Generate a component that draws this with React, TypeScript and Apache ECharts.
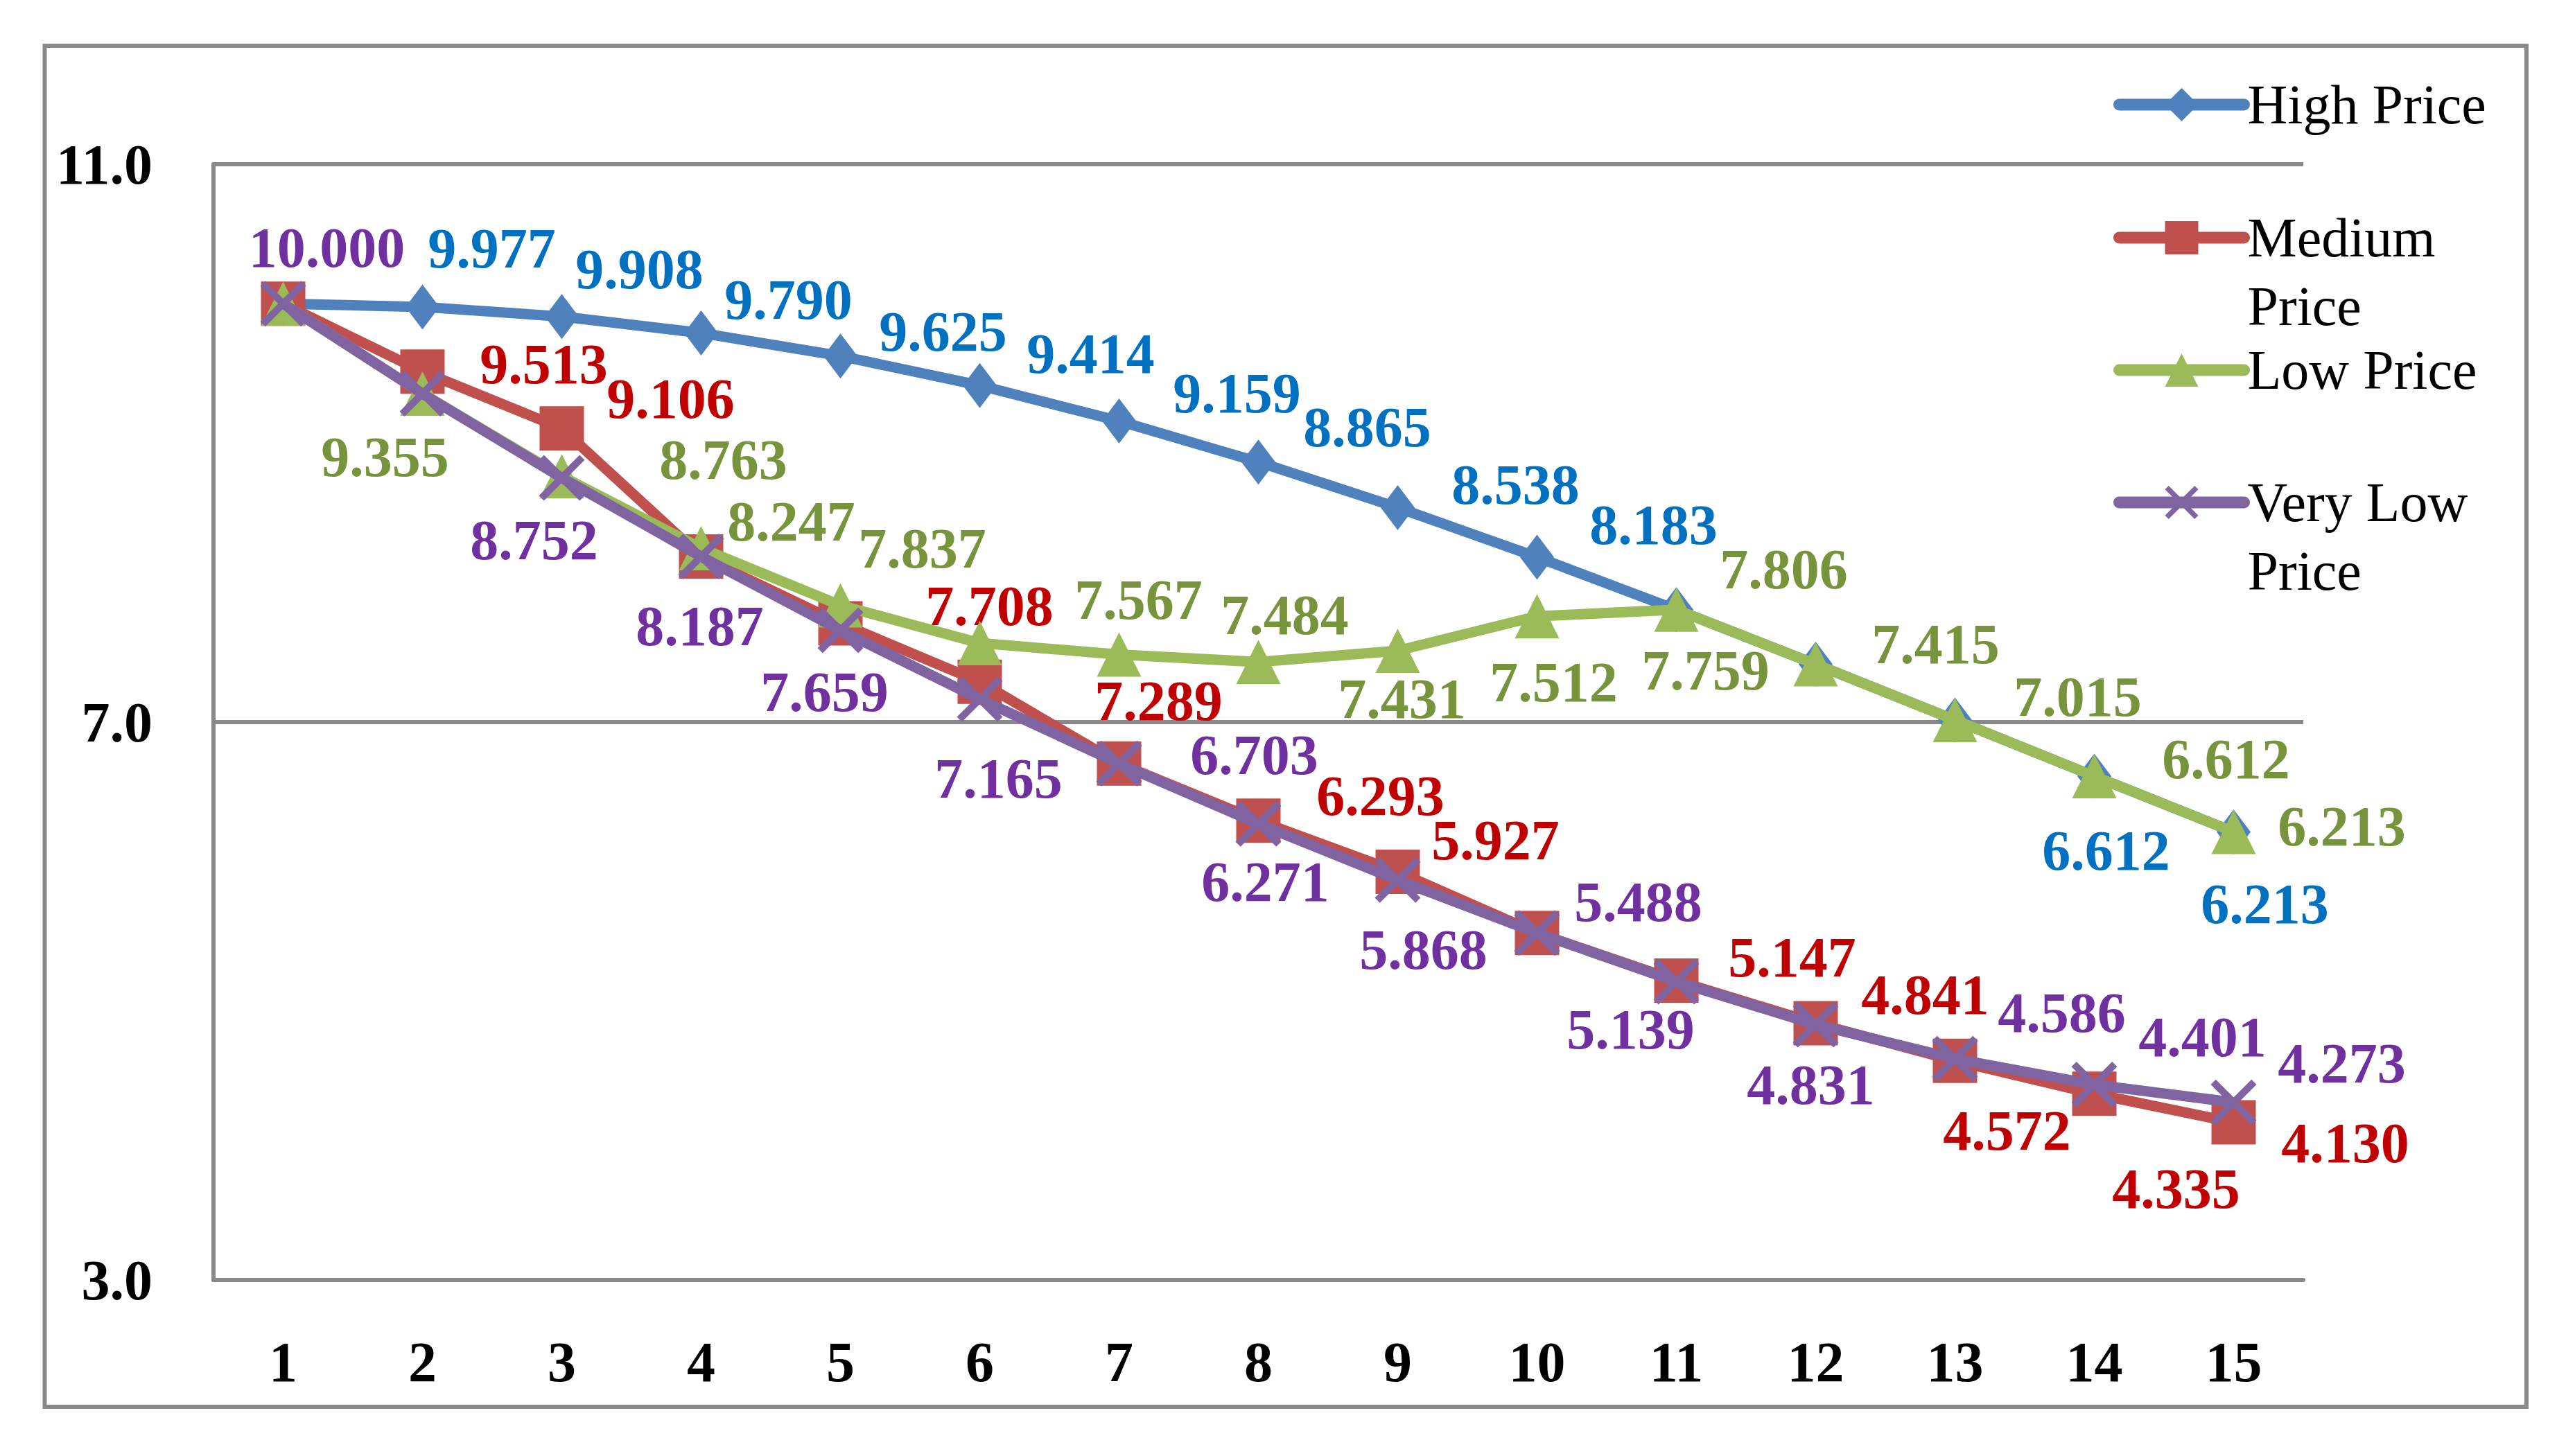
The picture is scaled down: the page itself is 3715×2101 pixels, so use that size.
import React, { useEffect, useRef } from "react";
import * as echarts from "echarts";

const categories = ["1", "2", "3", "4", "5", "6", "7", "8", "9", "10", "11", "12", "13", "14", "15"];
const highPrice = [10.0, 9.977, 9.908, 9.79, 9.625, 9.414, 9.159, 8.865, 8.538, 8.183, 7.806, 7.415, 7.015, 6.612, 6.213];
const mediumPrice = [10.0, 9.513, 9.106, 8.187, 7.708, 7.289, 6.703, 6.293, 5.927, 5.488, 5.147, 4.841, 4.572, 4.335, 4.13];
const lowPrice = [10.0, 9.355, 8.763, 8.247, 7.837, 7.567, 7.484, 7.431, 7.512, 7.759, 7.806, 7.415, 7.015, 6.612, 6.213];
const veryLowPrice = [10.0, 9.355, 8.752, 8.187, 7.659, 7.165, 6.703, 6.271, 5.868, 5.488, 5.139, 4.831, 4.586, 4.401, 4.273];
const seriesNames = ["High Price", "Medium Price", "Low Price", "Very Low Price"];
const yMin = 3;
const yMax = 11;
const yInterval = 4;

// label placement (offset of each label from its point; null = label hidden)
type Off = [number, number] | null;
const highLabelOffsets: Off[] = [null, [100, -84], [112, -68], [126, -48], [148, -35], [160, -46], [170, -40], [157, -50], [170, -33], [168, -46], null, null, null, [17, 107], [45, 104]];
const mediumLabelOffsets: Off[] = [null, [175, -11], [157, -43], null, [215, -25], [258, 28], null, [176, -36], [141, -45], null, [167, -33], [158, -41], [75, 101], [118, 137], [161, 30]];
const lowLabelOffsets: Off[] = [null, [-54, 91], [233, -24], [130, -39], [118, -82], [229, -62], [239, -57], [207, 53], [225, 46], [243, 78], [155, -58], [173, -29], [177, -33], [190, -25], [156, -8]];
const veryLowLabelOffsets: Off[] = [[63, -81], null, [-40, 90], [-2, 100], [-23, 89], [27, 115], [195, -12], [10, 84], [37, 101], [146, -45], [-66, 69], [-7, 87], [154, -66], [156, -69], [156, -56]];

const FONT = "Liberation Serif";
const GRAY = "#898989";

const crossPath =
  "path://M0,11 L11,0 L100,89 L89,100 Z M89,0 L100,11 L11,100 L0,89 Z";

function buildData(values: number[], offs: Off[]) {
  return values.map((v, i) => {
    const o = offs[i];
    return o
      ? { value: v, label: { show: true, offset: o } }
      : { value: v, label: { show: false } };
  });
}

export default function App() {
  const ref = useRef<HTMLDivElement>(null);
  useEffect(() => {
    document.body.style.margin = "0";
    if (!ref.current) return;
    const chart = echarts.init(ref.current, undefined, { renderer: "svg" });

    const lineColors = ["#4F81BD", "#C0504D", "#9BBB59", "#8064A2"];
    const labelColors = ["#0070C0", "#C00000", "#77933C", "#7030A0"];
    const symbols = ["diamond", "rect", "triangle", crossPath];
    const symbolSizes: any[] = [[49, 65], 64, 64, 66];
    const values = [highPrice, mediumPrice, lowPrice, veryLowPrice];
    const offsets = [highLabelOffsets, mediumLabelOffsets, lowLabelOffsets, veryLowLabelOffsets];

    const series = seriesNames.map((name, k) => ({
      name,
      type: "line",
      data: buildData(values[k], offsets[k]),
      symbol: symbols[k],
      symbolSize: symbolSizes[k],
      showAllSymbol: true,
      z: 2 + k,
      lineStyle: { color: lineColors[k], width: 15, cap: "round", join: "round" },
      itemStyle: { color: lineColors[k], opacity: 1 },
      label: {
        show: true,
        position: "inside",
        color: labelColors[k],
        fontFamily: FONT,
        fontSize: 82,
        fontWeight: "bold",
        lineHeight: 70,
        formatter: (p: any) => Number(p.value).toFixed(3),
      },
      emphasis: { disabled: true },
    }));

    const legendText = { fontFamily: FONT, fontSize: 80, color: "#000", lineHeight: 99 };
    const legendBase: any = {
      orient: "vertical",
      left: 3049,
      itemWidth: 180,
      itemHeight: 60,
      itemGap: 0,
      padding: 0,
      selectedMode: false,
      lineStyle: { width: 17, cap: "round" },
      textStyle: legendText,
    };

    chart.setOption({
      animation: false,
      backgroundColor: "#fff",
      grid: { left: 308, right: 392, top: 237, bottom: 254, containLabel: false },
      legend: [
        { ...legendBase, top: 121 - 19.5, data: [seriesNames[0]] },
        { ...legendBase, top: 313 - 118.5, data: [seriesNames[1]], formatter: " \nMedium\nPrice" },
        { ...legendBase, top: 504 - 19.5, data: [seriesNames[2]] },
        { ...legendBase, top: 695 - 118.5, data: [seriesNames[3]], formatter: " \nVery Low\nPrice" },
      ],
      xAxis: {
        type: "category",
        data: categories,
        boundaryGap: true,
        axisLine: { show: true, lineStyle: { color: GRAY, width: 6 } },
        axisTick: { show: false },
        axisLabel: { margin: 77, fontFamily: FONT, fontSize: 82, fontWeight: "bold", color: "#000", lineHeight: 82 },
        splitLine: { show: false },
      },
      yAxis: {
        type: "value",
        min: yMin,
        max: yMax,
        interval: yInterval,
        axisLine: { show: true, lineStyle: { color: GRAY, width: 6 } },
        axisTick: { show: false },
        axisLabel: {
          margin: 88,
          fontFamily: FONT,
          fontSize: 82,
          fontWeight: "bold",
          color: "#000",
          formatter: (v: number) => v.toFixed(1),
        },
        splitLine: { show: true, lineStyle: { color: GRAY, width: 6 } },
      },
      graphic: [
        {
          type: "rect",
          shape: { x: 64.5, y: 66, width: 3580.5, height: 1964 },
          style: { fill: "none", stroke: GRAY, lineWidth: 6 },
          silent: true,
          z: 0,
        },
      ],
      series,
    } as any);

    return () => chart.dispose();
  }, []);
  return <div ref={ref} style={{ width: 3715, height: 2101 }} />;
}
